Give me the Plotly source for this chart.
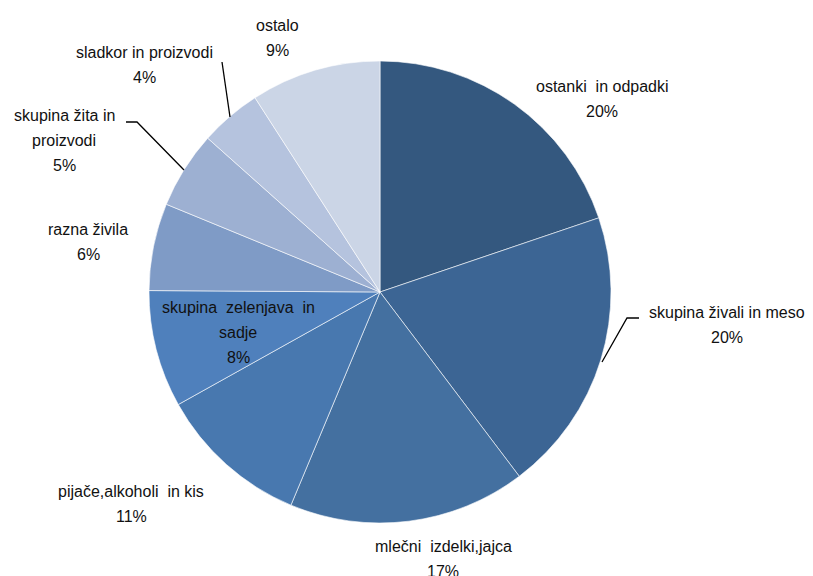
import plotly.graph_objects as go

PAGE_W, PAGE_H = 813, 576
OX, OY = 8, 8   # page body margin offset of the browser
W, H = PAGE_W - OX, PAGE_H - OY

categories = ["ostanki in odpadki", "skupina živali in meso", "mlečni izdelki,jajca",
              "pijače,alkoholi in kis", "skupina zelenjava in sadje", "razna živila",
              "skupina žita in proizvodi", "sladkor in proizvodi", "ostalo"]
values = [19.8, 19.9, 16.6, 10.6, 8.2, 6.1, 5.4, 4.3, 9.1]
pct_labels = ["20%", "20%", "17%", "11%", "8%", "6%", "5%", "4%", "9%"]
colors = ["#34587F", "#3C6594", "#4470A0", "#4878AF", "#4F80BC",
          "#7F9BC6", "#9DB0D2", "#B5C3DE", "#CBD5E6"]

# label display lines (as wrapped in the chart)
label_lines = [["ostanki  in odpadki"], ["skupina živali in meso"], ["mlečni  izdelki,jajca"],
               ["pijače,alkoholi  in kis"], ["skupina  zelenjava  in", "sadje"], ["razna živila"],
               ["skupina žita in", "proizvodi"], ["sladkor in proizvodi"], ["ostalo"]]
# pixel centre of first line of each label (page pixels)
label_pos = [(602, 87), (727, 312), (443, 546), (131, 491), (238, 307),
             (88, 229), (64, 116), (144, 52), (277, 25)]
LINE_STEP = 25

FONT = "Liberation Sans Narrow, Arial Narrow, Liberation Sans, Arial, sans-serif"


def px(x, y):
    return (x - OX) / W, (H - (y - OY)) / H


x0, y0 = px(149, 523)
x1, y1 = px(611, 61)
fig = go.Figure(go.Pie(
    labels=categories, values=values, sort=False, direction="clockwise", rotation=0,
    marker=dict(colors=colors, line=dict(color="white", width=0.6)),
    textinfo="none", hoverinfo="label+percent", showlegend=False,
    domain=dict(x=[x0, x1], y=[y0, y1]),
))

for lines, pct, (x, y) in zip(label_lines, pct_labels, label_pos):
    for i, t in enumerate(lines + [pct]):
        ax, ay = px(x, y + i * LINE_STEP)
        fig.add_annotation(x=ax, y=ay, xref="paper", yref="paper", showarrow=False,
                           xanchor="center", yanchor="middle", text=t,
                           font=dict(family=FONT, size=16, color="#111111"))

leaders = [
    [(222, 62), (230, 117)],
    [(126, 122), (137, 122), (184, 170)],
    [(639, 318), (627, 318), (602, 362)],
]
for pts in leaders:
    path = ""
    for i, (x, y) in enumerate(pts):
        X, Y = px(x, y)
        path += ("M" if i == 0 else " L") + f" {X} {Y}"
    fig.add_shape(type="path", path=path, xref="paper", yref="paper",
                  line=dict(color="black", width=1.3))

fig.update_layout(width=W, height=H, margin=dict(l=0, r=0, t=0, b=0),
                  paper_bgcolor="white", plot_bgcolor="white",
                  font=dict(family=FONT))
fig.write_html("out.html")
